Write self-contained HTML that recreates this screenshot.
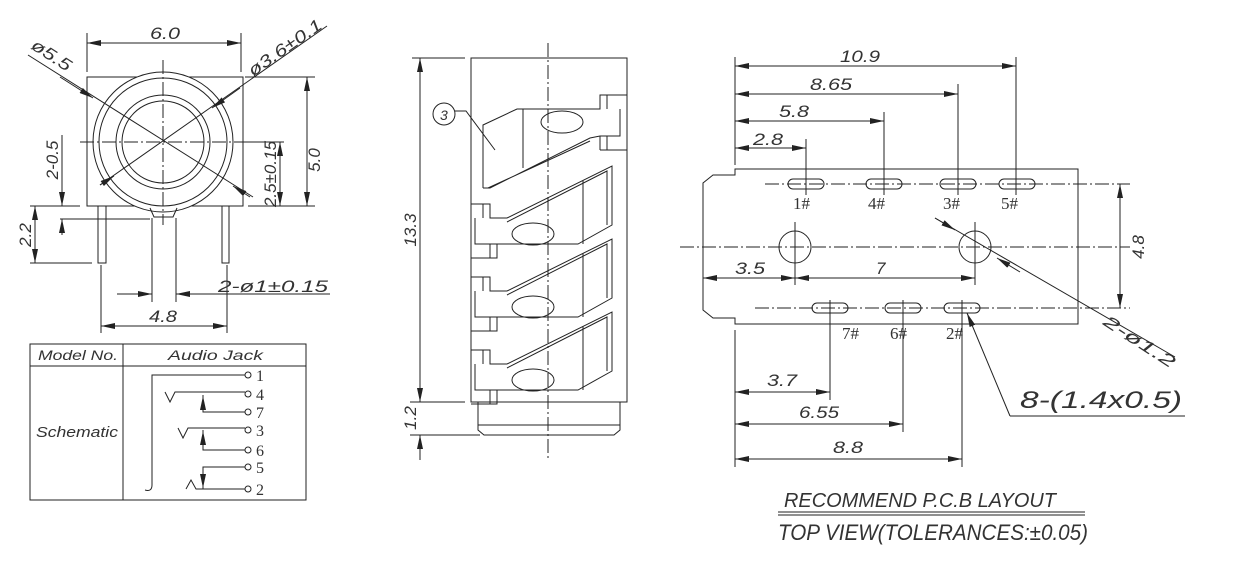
<!DOCTYPE html>
<html><head><meta charset="utf-8"><style>
html,body{margin:0;padding:0;background:#fff;}
svg{display:block;}
text{font-family:"Liberation Sans",sans-serif;font-style:italic;fill:#333;}
.s{font-family:"Liberation Serif",serif;font-style:normal;}
</style></head><body>
<svg width="1246" height="564" viewBox="0 0 1246 564" xmlns="http://www.w3.org/2000/svg">
<defs>
<marker id="a" viewBox="0 0 14 6" refX="14" refY="3" markerWidth="14" markerHeight="6" markerUnits="userSpaceOnUse" orient="auto-start-reverse"><path d="M0,0 L14,3 L0,6z" fill="#222"/></marker>
</defs>
<g stroke="#222" stroke-width="1" fill="none">
<!-- LEFT VIEW -->
<rect x="87" y="77" width="156" height="129"/>
<circle cx="163" cy="142" r="70" fill="#fff"/>
<circle cx="163" cy="142" r="64"/>
<circle cx="163" cy="142" r="47"/>
<circle cx="163" cy="142" r="41"/>
<path d="M150,208 L154,217 L173,217 L177,208"/>
<path d="M80,142 H280 M163,60 V225" stroke-dasharray="14,3,2,3"/>
<rect x="98" y="206" width="8" height="57"/>
<rect x="222" y="206" width="7" height="57"/>
<path d="M152,218 V302 M176,218 V302"/>
<path d="M28,55 L253,197"/>
<path d="M100,185 L327,26"/>
<path d="M93,98 L60,77" marker-start="url(#a)"/>
<path d="M233,186 L250,197" marker-start="url(#a)"/>
<path d="M212,108 L240,88" marker-start="url(#a)"/>
<path d="M114,176 L100,185" marker-start="url(#a)"/>
<path d="M87,33 V72 M241,33 V72"/>
<path d="M87,43 H241" marker-start="url(#a)" marker-end="url(#a)"/>
<path d="M245,77 H315 M248,206 H315"/>
<path d="M307,77 V206" marker-start="url(#a)" marker-end="url(#a)"/>
<path d="M248,142 H284"/>
<path d="M280,142 V206" marker-start="url(#a)" marker-end="url(#a)"/>
<path d="M62,135 V206" marker-end="url(#a)"/>
<path d="M62,235 V219" marker-end="url(#a)"/>
<path d="M60,219 H150"/>
<path d="M30,206 H80 M30,263 H92"/>
<path d="M35,206 V263" marker-start="url(#a)" marker-end="url(#a)"/>
<path d="M117,294 H152" marker-end="url(#a)"/>
<path d="M330,294 H176" marker-end="url(#a)"/>
<path d="M101,265 V333 M227,265 V333"/>
<path d="M101,326 H227" marker-start="url(#a)" marker-end="url(#a)"/>
<!-- TABLE -->
<rect x="30" y="344" width="276" height="156"/>
<path d="M30,366 H306 M123,344 V500"/>
<path d="M245,375 H152 V485 Q152,492 145,490"/>
<circle cx="248" cy="375" r="3"/><circle cx="248" cy="394" r="3"/><circle cx="248" cy="412" r="3"/>
<circle cx="248" cy="430" r="3"/><circle cx="248" cy="450" r="3"/><circle cx="248" cy="467" r="3"/><circle cx="248" cy="489" r="3"/>
<path d="M165,392 L170,402 L175,392 H245"/>
<path d="M245,412 H203 V395"/>
<path d="M203,412 V396" marker-end="url(#a)"/>
<path d="M178,428 L183,438 L188,428 H245"/>
<path d="M245,450 H203 V430"/>
<path d="M203,450 V431" marker-end="url(#a)"/>
<path d="M245,467 H203 V489"/>
<path d="M203,467 V488" marker-end="url(#a)"/>
<path d="M186,489 L191,480 L196,489 H245"/>
<!-- MIDDLE VIEW -->
<rect x="471" y="58" width="156" height="344"/>
<path d="M478,402 V430 L484,435 H614 L620,430 V402 M478,425 H620"/>
<path d="M548,43 V460" stroke-dasharray="14,3,2,3"/>
<path d="M412,58 H465 M410,402 H465 M410,435 H480"/>
<path d="M420,58 V402" marker-start="url(#a)" marker-end="url(#a)"/>
<path d="M420,460 V435" marker-end="url(#a)"/>
<circle cx="444" cy="114" r="11"/>
<path d="M455,111 H466 L495,150"/>
<path d="M483,188 V125 L517,109 H600 V95 H627 M600,95 V109 M607,95 V109 M600,150 H627 M600,136 V150 M607,136 V150 M620,109 V136 H600 L590,138 L490,188 H483 M523,109 V168 M488,188 L590,141"/>
<ellipse cx="562" cy="122" rx="21" ry="11"/>
<g id="c">
<path d="M471,204 H490 V218 H507 L612,166 V225 L578,244 H475 V218 M471,258 H497 V244 M483,204 V218 M490,244 V258 M583,180 V244 M507,222 L607,171 V225"/>
<ellipse cx="533" cy="234" rx="21" ry="11"/>
</g>
<use href="#c" transform="translate(0,73)"/>
<use href="#c" transform="translate(0,146)"/>
<!-- RIGHT VIEW -->
<path d="M735,169 H1078 V324 H735 V318 H713 L703,310 V183 L713,175 H735 Z"/>
<path d="M765,184 H1130 M680,247 H1130 M755,308 H1130" stroke-dasharray="14,3,2,3"/>
<path d="M735,57 V165"/>
<path d="M735,66 H1016" marker-start="url(#a)" marker-end="url(#a)"/>
<path d="M735,94 H958" marker-start="url(#a)" marker-end="url(#a)"/>
<path d="M735,121 H884" marker-start="url(#a)" marker-end="url(#a)"/>
<path d="M735,148 H806" marker-start="url(#a)" marker-end="url(#a)"/>
<path d="M1016,57 V195 M958,84 V195 M884,112 V195 M806,139 V195"/>
<rect x="788" y="179" width="36" height="10" rx="5"/>
<rect x="866" y="179" width="36" height="10" rx="5"/>
<rect x="940" y="179" width="36" height="10" rx="5"/>
<rect x="999" y="179" width="36" height="10" rx="5"/>
<rect x="812" y="303" width="36" height="10" rx="5"/>
<rect x="885" y="303" width="36" height="10" rx="5"/>
<rect x="944" y="303" width="36" height="10" rx="5"/>
<circle cx="795" cy="247" r="16"/><circle cx="975" cy="247" r="16"/>
<path d="M795,222 V285 M975,222 V285"/>
<path d="M703,278 H795" marker-start="url(#a)" marker-end="url(#a)"/>
<path d="M795,278 H975" marker-start="url(#a)" marker-end="url(#a)"/>
<path d="M1078,235 V260"/>
<path d="M1120,184 V308" marker-start="url(#a)" marker-end="url(#a)"/>
<path d="M935,218 L1175,357"/>
<path d="M935,218 L955,230" marker-end="url(#a)"/>
<path d="M1020,272 L997,258" marker-end="url(#a)"/>
<path d="M1010,416 L967,313" marker-end="url(#a)"/>
<path d="M1010,416 H1185"/>
<path d="M735,330 V467 M830,300 V400 M903,300 V432 M962,300 V467"/>
<path d="M735,392 H830" marker-start="url(#a)" marker-end="url(#a)"/>
<path d="M735,424 H903" marker-start="url(#a)" marker-end="url(#a)"/>
<path d="M735,459 H962" marker-start="url(#a)" marker-end="url(#a)"/>
<path d="M778,512 H1085 M778,515 H1085"/>
</g>
<g font-size="17">
<text x="150" y="39" textLength="30" lengthAdjust="spacingAndGlyphs">6.0</text>
<text transform="translate(30,48) rotate(33)" textLength="44" lengthAdjust="spacingAndGlyphs">ø5.5</text>
<text transform="translate(253,77) rotate(-35)" textLength="86" lengthAdjust="spacingAndGlyphs">ø3.6±0.1</text>
<text transform="translate(320,160) rotate(-90)" text-anchor="middle">5.0</text>
<text transform="translate(276,174) rotate(-90)" text-anchor="middle">2.5±0.15</text>
<text transform="translate(58,160) rotate(-90)" text-anchor="middle">2-0.5</text>
<text transform="translate(31,235) rotate(-90)" text-anchor="middle">2.2</text>
<text x="218" y="292" textLength="110" lengthAdjust="spacingAndGlyphs">2-ø1±0.15</text>
<text x="149" y="322" textLength="28" lengthAdjust="spacingAndGlyphs">4.8</text>
<text x="38" y="360" font-size="14" textLength="80" lengthAdjust="spacingAndGlyphs">Model No.</text>
<text x="168" y="360" font-size="14" textLength="95" lengthAdjust="spacingAndGlyphs">Audio Jack</text>
<text x="36" y="437" font-size="15" textLength="82" lengthAdjust="spacingAndGlyphs">Schematic</text>
<text class="s" x="256" y="381" font-size="16">1</text><text class="s" x="256" y="400" font-size="16">4</text><text class="s" x="256" y="418" font-size="16">7</text><text class="s" x="256" y="436" font-size="16">3</text><text class="s" x="256" y="456" font-size="16">6</text><text class="s" x="256" y="473" font-size="16">5</text><text class="s" x="256" y="495" font-size="16">2</text>
<text transform="translate(416,230) rotate(-90)" text-anchor="middle">13.3</text>
<text transform="translate(416,418) rotate(-90)" text-anchor="middle">1.2</text>
<text x="440" y="120" font-size="14">3</text>
<text x="840" y="62" textLength="40" lengthAdjust="spacingAndGlyphs">10.9</text>
<text x="810" y="90" textLength="42" lengthAdjust="spacingAndGlyphs">8.65</text>
<text x="779" y="117" textLength="30" lengthAdjust="spacingAndGlyphs">5.8</text>
<text x="753" y="145" textLength="30" lengthAdjust="spacingAndGlyphs">2.8</text>
<text class="s" x="793" y="209" font-size="17">1#</text>
<text class="s" x="868" y="209" font-size="17">4#</text>
<text class="s" x="943" y="209" font-size="17">3#</text>
<text class="s" x="1001" y="209" font-size="17">5#</text>
<text class="s" x="842" y="339" font-size="17">7#</text>
<text class="s" x="890" y="339" font-size="17">6#</text>
<text class="s" x="946" y="339" font-size="17">2#</text>
<text x="735" y="274" textLength="30" lengthAdjust="spacingAndGlyphs">3.5</text>
<text x="876" y="274">7</text>
<text transform="translate(1144,247) rotate(-90)" text-anchor="middle">4.8</text>
<text transform="translate(1102,324) rotate(33)" textLength="82" lengthAdjust="spacingAndGlyphs">2-ø1.2</text>
<text x="1020" y="408" font-size="24" textLength="162" lengthAdjust="spacingAndGlyphs">8-(1.4x0.5)</text>
<text x="767" y="386" textLength="30" lengthAdjust="spacingAndGlyphs">3.7</text>
<text x="799" y="418" textLength="40" lengthAdjust="spacingAndGlyphs">6.55</text>
<text x="833" y="453" textLength="30" lengthAdjust="spacingAndGlyphs">8.8</text>
<text x="784" y="507" font-size="20" textLength="272" lengthAdjust="spacingAndGlyphs">RECOMMEND P.C.B LAYOUT</text>
<text x="778" y="540" font-size="22" textLength="310" lengthAdjust="spacingAndGlyphs">TOP VIEW(TOLERANCES:±0.05)</text>
</g>
</svg>
</body></html>
